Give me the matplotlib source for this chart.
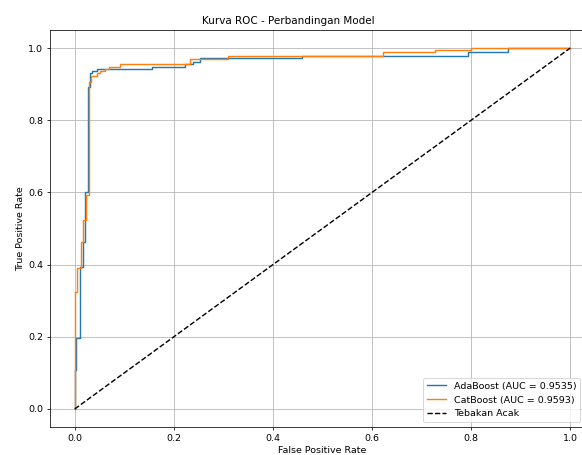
import matplotlib
matplotlib.use("Agg")
import matplotlib.pyplot as plt

# kurva ROC (titik sudut seperti keluaran roc_curve)
fpr_ada = [0.0, 0.0, 0.003, 0.003, 0.010, 0.010, 0.017, 0.017, 0.021, 0.021,
           0.026, 0.026, 0.030, 0.030, 0.034, 0.034, 0.044, 0.044, 0.155, 0.155,
           0.222, 0.222, 0.238, 0.238, 0.253, 0.253, 0.458, 0.458, 0.794, 0.794,
           0.875, 0.875, 1.0]
tpr_ada = [0.0, 0.108, 0.108, 0.197, 0.197, 0.394, 0.394, 0.463, 0.463, 0.600,
           0.600, 0.893, 0.893, 0.930, 0.930, 0.937, 0.937, 0.942, 0.942, 0.948,
           0.948, 0.955, 0.955, 0.960, 0.960, 0.972, 0.972, 0.979, 0.979, 0.990,
           0.990, 1.0, 1.0]

fpr_cat = [0.0, 0.0, 0.005, 0.005, 0.012, 0.012, 0.017, 0.017, 0.022, 0.022,
           0.029, 0.029, 0.033, 0.033, 0.044, 0.044, 0.050, 0.050, 0.060, 0.060,
           0.070, 0.070, 0.091, 0.091, 0.232, 0.232, 0.309, 0.309, 0.622, 0.622,
           0.727, 0.727, 0.800, 0.800, 1.0]
tpr_cat = [0.0, 0.325, 0.325, 0.390, 0.390, 0.463, 0.463, 0.523, 0.523, 0.593,
           0.593, 0.905, 0.905, 0.922, 0.922, 0.930, 0.930, 0.937, 0.937, 0.941,
           0.941, 0.948, 0.948, 0.956, 0.956, 0.971, 0.971, 0.979, 0.979, 0.988,
           0.988, 0.994, 0.994, 1.0, 1.0]

auc_ada = 0.9535
auc_cat = 0.9593

fig = plt.figure(figsize=(582 / 68, 455 / 68), dpi=68)
ax = fig.add_axes([50 / 582, 28 / 455, 545 / 582, 397 / 455])

ax.plot(fpr_ada, tpr_ada, label=f'AdaBoost (AUC = {auc_ada:.4f})')
ax.plot(fpr_cat, tpr_cat, label=f'CatBoost (AUC = {auc_cat:.4f})')
ax.plot([0, 1], [0, 1], 'k--', label='Tebakan Acak')

ax.set_xlim(-0.05, 1.05)
ax.set_ylim(-0.05, 1.05)
ax.set_xlabel('False Positive Rate')
ax.set_ylabel('True Positive Rate')
ax.set_title('Kurva ROC - Perbandingan Model', fontsize=11, x=(288 - 50) / 545)
# legenda digeser sedikit supaya teksnya tidak terpotong tepi gambar
ax.legend(loc='lower right', bbox_to_anchor=(580 / 582, 33 / 455),
          bbox_transform=fig.transFigure, borderaxespad=0)
ax.grid(True)

fig.savefig('out.png', dpi=68)
